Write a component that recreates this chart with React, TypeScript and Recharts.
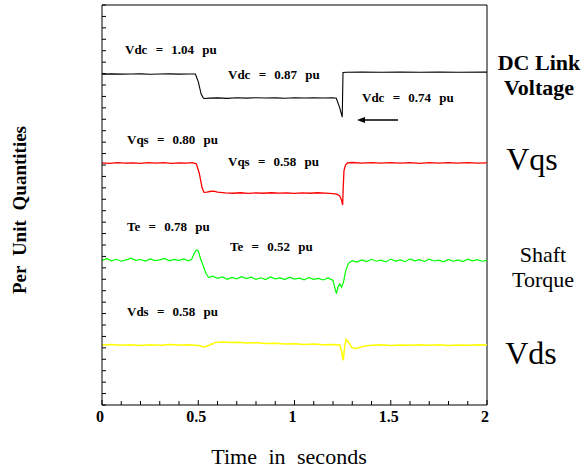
import React from 'react';
import { LineChart, Line, XAxis, YAxis, ReferenceLine } from 'recharts';

// time (s) / level on the stacked plot axis (unlabelled, 0..3.5)
const vdc = [
  { t: 0, v: 2.895 }, { t: 0.05, v: 2.897 }, { t: 0.1, v: 2.895 }, { t: 0.15, v: 2.896 },
  { t: 0.2, v: 2.897 }, { t: 0.25, v: 2.894 }, { t: 0.3, v: 2.896 }, { t: 0.35, v: 2.897 },
  { t: 0.4, v: 2.895 }, { t: 0.45, v: 2.896 }, { t: 0.485, v: 2.896 }, { t: 0.5, v: 2.83 },
  { t: 0.515, v: 2.72 }, { t: 0.525, v: 2.69 }, { t: 0.53, v: 2.682 }, { t: 0.56, v: 2.685 },
  { t: 0.6, v: 2.687 }, { t: 0.65, v: 2.683 }, { t: 0.7, v: 2.688 }, { t: 0.75, v: 2.685 },
  { t: 0.8, v: 2.689 }, { t: 0.85, v: 2.686 }, { t: 0.9, v: 2.687 }, { t: 0.95, v: 2.684 },
  { t: 1.0, v: 2.688 }, { t: 1.05, v: 2.686 }, { t: 1.1, v: 2.689 }, { t: 1.15, v: 2.686 },
  { t: 1.2, v: 2.688 }, { t: 1.217, v: 2.684 }, { t: 1.235, v: 2.6 }, { t: 1.248, v: 2.52 },
  { t: 1.252, v: 2.91 }, { t: 1.27, v: 2.912 }, { t: 1.35, v: 2.913 }, { t: 1.45, v: 2.911 },
  { t: 1.55, v: 2.913 }, { t: 1.65, v: 2.912 }, { t: 1.75, v: 2.914 }, { t: 1.85, v: 2.912 },
  { t: 2.0, v: 2.913 },
];

const vqs = [
  { t: 0, v: 2.118 }, { t: 0.04, v: 2.115 }, { t: 0.08, v: 2.121 }, { t: 0.12, v: 2.116 },
  { t: 0.16, v: 2.119 }, { t: 0.2, v: 2.114 }, { t: 0.24, v: 2.12 }, { t: 0.28, v: 2.117 },
  { t: 0.32, v: 2.121 }, { t: 0.36, v: 2.115 }, { t: 0.4, v: 2.119 }, { t: 0.44, v: 2.116 },
  { t: 0.47, v: 2.12 }, { t: 0.49, v: 2.11 }, { t: 0.505, v: 2.03 }, { t: 0.52, v: 1.9 },
  { t: 0.53, v: 1.86 }, { t: 0.545, v: 1.862 }, { t: 0.56, v: 1.868 }, { t: 0.58, v: 1.872 },
  { t: 0.6, v: 1.862 }, { t: 0.64, v: 1.856 }, { t: 0.68, v: 1.853 }, { t: 0.72, v: 1.857 },
  { t: 0.76, v: 1.852 }, { t: 0.8, v: 1.856 }, { t: 0.84, v: 1.853 }, { t: 0.88, v: 1.857 },
  { t: 0.92, v: 1.854 }, { t: 0.96, v: 1.856 }, { t: 1.0, v: 1.852 }, { t: 1.04, v: 1.856 },
  { t: 1.08, v: 1.853 }, { t: 1.12, v: 1.857 }, { t: 1.16, v: 1.854 }, { t: 1.2, v: 1.85 },
  { t: 1.22, v: 1.845 }, { t: 1.235, v: 1.83 }, { t: 1.245, v: 1.79 }, { t: 1.25, v: 1.75 },
  { t: 1.253, v: 1.9 }, { t: 1.257, v: 2.05 }, { t: 1.265, v: 2.1 }, { t: 1.275, v: 2.118 },
  { t: 1.3, v: 2.122 }, { t: 1.35, v: 2.117 }, { t: 1.4, v: 2.12 }, { t: 1.45, v: 2.116 },
  { t: 1.5, v: 2.121 }, { t: 1.55, v: 2.117 }, { t: 1.6, v: 2.12 }, { t: 1.65, v: 2.115 },
  { t: 1.7, v: 2.12 }, { t: 1.75, v: 2.117 }, { t: 1.8, v: 2.121 }, { t: 1.85, v: 2.116 },
  { t: 1.9, v: 2.12 }, { t: 1.95, v: 2.117 }, { t: 2.0, v: 2.119 },
];

const te = [
  { t: 0, v: 1.265 }, { t: 0.025, v: 1.28 }, { t: 0.05, v: 1.262 }, { t: 0.075, v: 1.275 },
  { t: 0.1, v: 1.258 }, { t: 0.125, v: 1.27 }, { t: 0.15, v: 1.284 }, { t: 0.175, v: 1.266 },
  { t: 0.2, v: 1.273 }, { t: 0.225, v: 1.259 }, { t: 0.25, v: 1.278 }, { t: 0.275, v: 1.264 },
  { t: 0.3, v: 1.27 }, { t: 0.325, v: 1.282 }, { t: 0.35, v: 1.261 }, { t: 0.375, v: 1.274 },
  { t: 0.4, v: 1.266 }, { t: 0.425, v: 1.279 }, { t: 0.45, v: 1.262 }, { t: 0.465, v: 1.272 },
  { t: 0.48, v: 1.33 }, { t: 0.49, v: 1.356 }, { t: 0.5, v: 1.35 }, { t: 0.51, v: 1.29 },
  { t: 0.525, v: 1.22 }, { t: 0.54, v: 1.15 }, { t: 0.555, v: 1.115 }, { t: 0.575, v: 1.128 },
  { t: 0.6, v: 1.108 }, { t: 0.625, v: 1.12 }, { t: 0.65, v: 1.1 }, { t: 0.675, v: 1.116 },
  { t: 0.7, v: 1.104 }, { t: 0.725, v: 1.122 }, { t: 0.75, v: 1.106 }, { t: 0.775, v: 1.118 },
  { t: 0.8, v: 1.1 }, { t: 0.825, v: 1.113 }, { t: 0.85, v: 1.098 }, { t: 0.875, v: 1.12 },
  { t: 0.9, v: 1.104 }, { t: 0.925, v: 1.112 }, { t: 0.95, v: 1.097 }, { t: 0.975, v: 1.118 },
  { t: 1.0, v: 1.102 }, { t: 1.025, v: 1.11 }, { t: 1.05, v: 1.096 }, { t: 1.075, v: 1.115 },
  { t: 1.1, v: 1.1 }, { t: 1.125, v: 1.108 }, { t: 1.15, v: 1.094 }, { t: 1.175, v: 1.112 },
  { t: 1.2, v: 1.09 }, { t: 1.21, v: 1.02 }, { t: 1.218, v: 0.975 }, { t: 1.225, v: 1.03 },
  { t: 1.235, v: 1.06 }, { t: 1.245, v: 1.03 }, { t: 1.255, v: 1.08 }, { t: 1.265, v: 1.17 },
  { t: 1.28, v: 1.24 }, { t: 1.3, v: 1.262 }, { t: 1.325, v: 1.25 }, { t: 1.35, v: 1.27 },
  { t: 1.375, v: 1.255 }, { t: 1.4, v: 1.275 }, { t: 1.425, v: 1.258 }, { t: 1.45, v: 1.268 },
  { t: 1.475, v: 1.252 }, { t: 1.5, v: 1.277 }, { t: 1.525, v: 1.26 }, { t: 1.55, v: 1.27 },
  { t: 1.575, v: 1.254 }, { t: 1.6, v: 1.279 }, { t: 1.625, v: 1.262 }, { t: 1.65, v: 1.272 },
  { t: 1.675, v: 1.256 }, { t: 1.7, v: 1.276 }, { t: 1.725, v: 1.26 }, { t: 1.75, v: 1.268 },
  { t: 1.775, v: 1.253 }, { t: 1.8, v: 1.274 }, { t: 1.825, v: 1.258 }, { t: 1.85, v: 1.27 },
  { t: 1.875, v: 1.255 }, { t: 1.9, v: 1.276 }, { t: 1.925, v: 1.261 }, { t: 1.95, v: 1.272 },
  { t: 1.975, v: 1.258 }, { t: 2.0, v: 1.266 },
];

const vds = [
  { t: 0, v: 0.525 }, { t: 0.05, v: 0.53 }, { t: 0.1, v: 0.522 }, { t: 0.15, v: 0.528 },
  { t: 0.2, v: 0.52 }, { t: 0.25, v: 0.527 }, { t: 0.3, v: 0.523 }, { t: 0.35, v: 0.529 },
  { t: 0.4, v: 0.524 }, { t: 0.45, v: 0.527 }, { t: 0.5, v: 0.52 }, { t: 0.53, v: 0.508 },
  { t: 0.56, v: 0.525 }, { t: 0.59, v: 0.548 }, { t: 0.63, v: 0.552 }, { t: 0.67, v: 0.546 },
  { t: 0.71, v: 0.55 }, { t: 0.75, v: 0.543 }, { t: 0.8, v: 0.545 }, { t: 0.85, v: 0.538 },
  { t: 0.9, v: 0.54 }, { t: 0.95, v: 0.533 }, { t: 1.0, v: 0.536 }, { t: 1.05, v: 0.53 },
  { t: 1.1, v: 0.533 }, { t: 1.15, v: 0.527 }, { t: 1.2, v: 0.53 }, { t: 1.235, v: 0.525 },
  { t: 1.245, v: 0.47 }, { t: 1.253, v: 0.39 }, { t: 1.26, v: 0.5 }, { t: 1.268, v: 0.575 },
  { t: 1.28, v: 0.55 }, { t: 1.3, v: 0.5 }, { t: 1.32, v: 0.495 }, { t: 1.36, v: 0.515 },
  { t: 1.4, v: 0.522 }, { t: 1.45, v: 0.527 }, { t: 1.5, v: 0.52 }, { t: 1.55, v: 0.526 },
  { t: 1.6, v: 0.522 }, { t: 1.65, v: 0.528 }, { t: 1.7, v: 0.523 }, { t: 1.75, v: 0.527 },
  { t: 1.8, v: 0.521 }, { t: 1.85, v: 0.526 }, { t: 1.9, v: 0.522 }, { t: 1.95, v: 0.527 },
  { t: 2.0, v: 0.524 },
];

const xTicks = [0, 0.1, 0.2, 0.3, 0.4, 0.5, 0.6, 0.7, 0.8, 0.9, 1, 1.1, 1.2, 1.3, 1.4, 1.5, 1.6, 1.7, 1.8, 1.9, 2];
const xMajorLabels: Record<string, string> = { '0': '0', '0.5': '0.5', '1': '1', '1.5': '1.5', '2': '2' };
const yTicks = [
  0, 0.1, 0.2, 0.3, 0.4, 0.5, 0.6, 0.7, 0.8, 0.9, 1, 1.1, 1.2, 1.3, 1.4, 1.5, 1.6, 1.7,
  1.8, 1.9, 2, 2.1, 2.2, 2.3, 2.4, 2.5, 2.6, 2.7, 2.8, 2.9, 3, 3.1, 3.2, 3.3, 3.4, 3.5,
];

const serif = "'Liberation Serif', 'DejaVu Serif', Times, serif";

const XTick = (props: any) => {
  const { x, y, payload } = props;
  const label = xMajorLabels[String(payload.value)];
  return (
    <g>
      <line x1={x} x2={x} y1={y} y2={y - (label ? 5 : 4)} stroke="#000" />
      {label && (
        <text x={x - 2} y={y + 17} textAnchor="middle" style={{ fontFamily: serif, fontWeight: 'bold', fontSize: 16 }} fill="#000">
          {label}
        </text>
      )}
    </g>
  );
};

const YTick = (props: any) => {
  const { x, y } = props;
  return <line x1={x} x2={x + 4} y1={y} y2={y} stroke="#000" />;
};

const note: React.CSSProperties = { fontFamily: serif, fontWeight: 'bold', fontSize: 13, wordSpacing: 5 };
const side: React.CSSProperties = { fontFamily: serif, fontSize: 22 };

const App: React.FC = () => {
  return (
    <div style={{ position: 'absolute', left: 0, top: 0, width: 582, height: 472, background: '#fff' }}>
      <LineChart width={582} height={472} margin={{ top: 5, right: 95, bottom: 37, left: 52 }}>
        <XAxis
          type="number"
          dataKey="t"
          domain={[0, 2]}
          ticks={xTicks}
          interval={0}
          tickSize={0}
          tickMargin={0}
          tickLine={false}
          tick={XTick}
          height={30}
          axisLine={{ stroke: '#000' }}
        />
        <YAxis
          type="number"
          domain={[0, 3.5]}
          ticks={yTicks}
          interval={0}
          tickSize={0}
          tickMargin={0}
          tickLine={false}
          tick={YTick}
          width={50}
          axisLine={{ stroke: '#000' }}
        />
        <ReferenceLine x={2} stroke="#000" />
        <ReferenceLine y={3.5} stroke="#000" />
        <Line data={vdc} dataKey="v" type="linear" stroke="#000000" strokeWidth={1.1} dot={false} isAnimationActive={false} />
        <Line data={vqs} dataKey="v" type="linear" stroke="#ff0000" strokeWidth={1.3} dot={false} isAnimationActive={false} />
        <Line data={te} dataKey="v" type="linear" stroke="#00ff00" strokeWidth={1.2} dot={false} isAnimationActive={false} />
        <Line data={vds} dataKey="v" type="linear" stroke="#ffff00" strokeWidth={1.5} dot={false} isAnimationActive={false} />
      </LineChart>
      <svg width={582} height={472} style={{ position: 'absolute', left: 0, top: 0, pointerEvents: 'none' }}>
        <text x={125} y={54} style={note}>Vdc = 1.04 pu</text>
        <text x={228} y={79} style={note}>Vdc = 0.87 pu</text>
        <text x={362} y={102} style={note}>Vdc = 0.74 pu</text>
        <line x1={398} x2={362} y1={120} y2={120} stroke="#000" strokeWidth={1.5} />
        <polygon points="357,120 365,117 365,123" fill="#000" />
        <text x={127} y={144} style={note}>Vqs = 0.80 pu</text>
        <text x={228} y={166} style={note}>Vqs = 0.58 pu</text>
        <text x={127} y={231} style={note}>Te = 0.78 pu</text>
        <text x={230} y={251} style={note}>Te = 0.52 pu</text>
        <text x={127} y={316} style={note}>Vds = 0.58 pu</text>

        <text x={539} y={70} textAnchor="middle" style={{ ...side, fontWeight: 'bold' }}>DC Link</text>
        <text x={539} y={95} textAnchor="middle" style={{ ...side, fontWeight: 'bold' }}>Voltage</text>
        <text x={532} y={170} textAnchor="middle" style={{ ...side, fontSize: 32 }}>Vqs</text>
        <text x={543} y={262} textAnchor="middle" style={side}>Shaft</text>
        <text x={543} y={287} textAnchor="middle" style={side}>Torque</text>
        <text x={531} y={364} textAnchor="middle" style={{ ...side, fontSize: 32 }}>Vds</text>

        <text x={289} y={464} textAnchor="middle" style={{ ...side, wordSpacing: 6 }}>Time in seconds</text>
        <text x={26} y={210} textAnchor="middle" transform="rotate(-90 26 210)" style={{ fontFamily: serif, fontWeight: 'bold', fontSize: 19, wordSpacing: 5 }}>
          Per Unit Quantities
        </text>
      </svg>
    </div>
  );
};

export default App;
